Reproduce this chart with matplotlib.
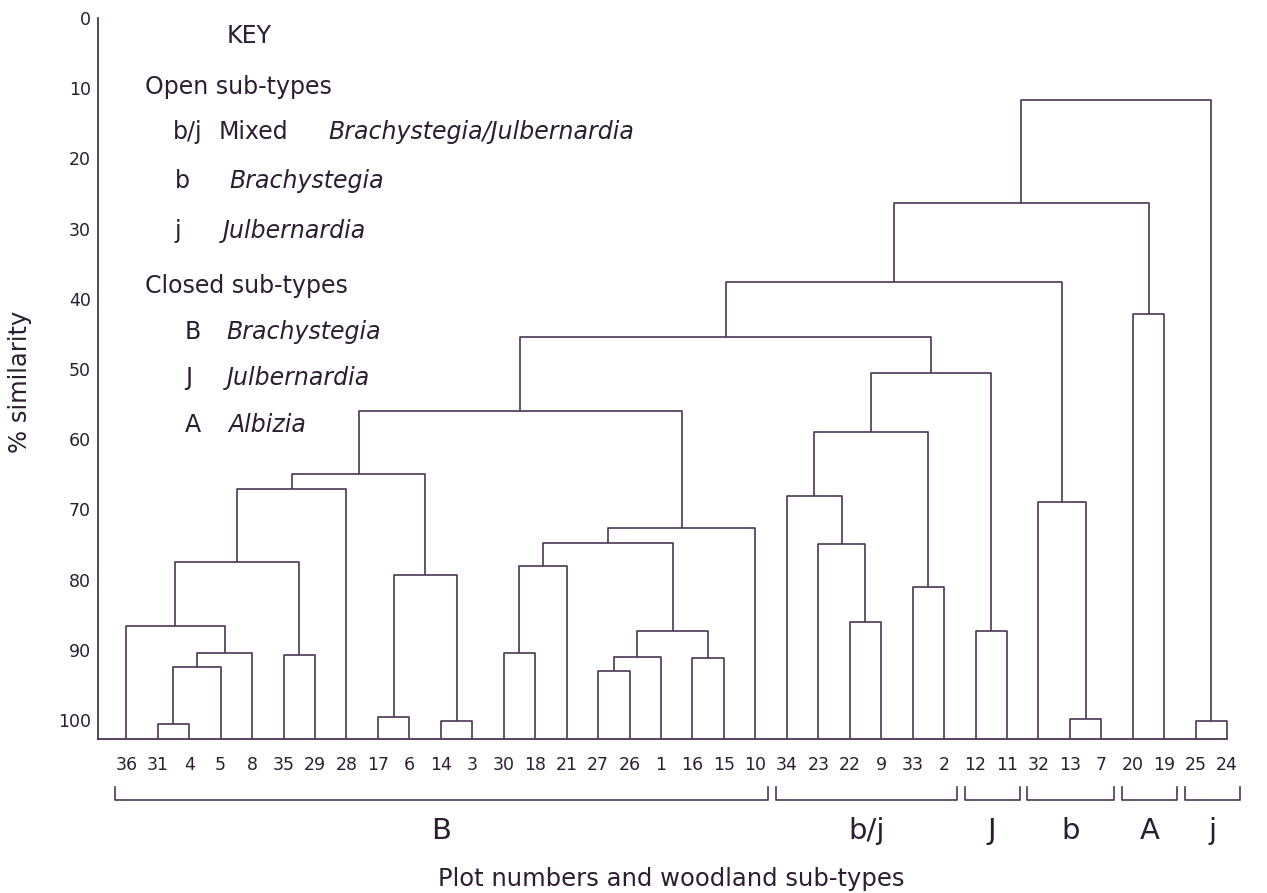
import matplotlib
matplotlib.use("Agg")
import matplotlib.pyplot as plt

# plot numbers in the order they sit along the bottom
leaves = ["36", "31", "4", "5", "8", "35", "29", "28", "17", "6", "14", "3",
          "30", "18", "21", "27", "26", "1", "16", "15", "10",
          "34", "23", "22", "9", "33", "2",
          "12", "11", "32", "13", "7", "20", "19", "25", "24"]

# linkage: (left, right, % similarity at which they join); nodes named n0, n1, ...
merges = [
    ("31", "4", 100.5),    # n0
    ("n0", "5", 92.5),     # n1
    ("n1", "8", 90.4),     # n2
    ("36", "n2", 86.6),    # n3
    ("35", "29", 90.8),    # n4
    ("n3", "n4", 77.5),    # n5
    ("n5", "28", 67.1),    # n6
    ("17", "6", 99.5),     # n7
    ("14", "3", 100.1),    # n8
    ("n7", "n8", 79.3),    # n9
    ("n6", "n9", 65.0),    # n10
    ("30", "18", 90.5),    # n11
    ("n11", "21", 78.1),   # n12
    ("27", "26", 93.0),    # n13
    ("n13", "1", 91.0),    # n14
    ("16", "15", 91.2),    # n15
    ("n14", "n15", 87.3),  # n16
    ("n12", "n16", 74.8),  # n17
    ("n17", "10", 72.6),   # n18
    ("n10", "n18", 56.0),  # n19
    ("22", "9", 86.1),     # n20
    ("23", "n20", 74.9),   # n21
    ("34", "n21", 68.1),   # n22
    ("33", "2", 81.0),     # n23
    ("n22", "n23", 58.9),  # n24
    ("12", "11", 87.3),    # n25
    ("n24", "n25", 50.6),  # n26
    ("n19", "n26", 45.5),  # n27
    ("13", "7", 99.9),     # n28
    ("32", "n28", 68.9),   # n29
    ("n27", "n29", 37.6),  # n30
    ("20", "19", 42.2),    # n31
    ("n30", "n31", 26.3),  # n32
    ("25", "24", 100.2),   # n33
    ("n32", "n33", 11.7),  # n34
]

# woodland sub-type groups: (label, first plot, last plot)
groups = [("B", "36", "10"), ("b/j", "34", "2"), ("J", "12", "11"),
          ("b", "32", "7"), ("A", "20", "19"), ("j", "25", "24")]

yticks = [0, 10, 20, 30, 40, 50, 60, 70, 80, 90, 100]

key_codes = ["b/j", "b", "j", "B", "J", "A"]
key_names = ["Brachystegia/Julbernardia", "Brachystegia", "Julbernardia",
             "Brachystegia", "Julbernardia", "Albizia"]

LINE = "#4b3553"
TEXT = "#2b1e30"
BASE = 102.7
W, H = 1267, 893

fig = plt.figure(figsize=(W / 100, H / 100), dpi=100)
ax = fig.add_axes([98 / W, 1 - 739 / H, (1258.6 - 98) / W, (739 - 18) / H])

pos = {name: i for i, name in enumerate(leaves)}
height = {name: BASE for name in leaves}
for k, (a, b, h) in enumerate(merges):
    xa, xb = pos[a], pos[b]
    ax.plot([xa, xa, xb, xb], [height[a], h, h, height[b]],
            color=LINE, lw=1.2, solid_capstyle="butt")
    pos[f"n{k}"] = (xa + xb) / 2
    height[f"n{k}"] = h

ax.set_xlim(-0.9, 36.0)
ax.set_ylim(BASE, 0)
for side in ("top", "right"):
    ax.spines[side].set_visible(False)
for side in ("left", "bottom"):
    ax.spines[side].set_color(LINE)
    ax.spines[side].set_linewidth(1.3)
ax.spines["bottom"].set_bounds(-0.9, len(leaves) - 1)

ax.set_xticks(range(len(leaves)))
ax.set_xticklabels(leaves)
ax.set_yticks(yticks)
ax.set_yticklabels([str(t) for t in yticks])
ax.tick_params(axis="x", length=0, pad=12, labelsize=12.5, labelcolor=TEXT)
ax.tick_params(axis="y", length=0, pad=5, labelsize=12.5, labelcolor=TEXT)

# brackets under the plot numbers
for label, first, last in groups:
    x0 = leaves.index(first) - 0.35
    x1 = leaves.index(last) + 0.4
    ax.plot([x0, x0, x1, x1], [109.5, 111.4, 111.4, 109.5],
            color=LINE, lw=1.2, clip_on=False)
    ax.text((x0 + x1) / 2, 115.8, label, ha="center", va="center",
            fontsize=21, color=TEXT, clip_on=False)

fig.text(671 / W, 1 - 879 / H, "Plot numbers and woodland sub-types",
         ha="center", va="center", fontsize=17.5, color=TEXT)
fig.text(20 / W, 1 - 382 / H, "% similarity", rotation=90,
         ha="center", va="center", fontsize=17.5, color=TEXT)

# key
def ktext(x, y, s, **kw):
    fig.text(x / W, 1 - y / H, s, ha="left", va="baseline",
             fontsize=17, color=TEXT, **kw)

ktext(227, 43, "KEY")
ktext(145, 94, "Open sub-types")
ktext(145, 293, "Closed sub-types")
code_x = [172.6, 174.7, 174.7, 185, 185, 185]
name_x = [328, 229.4, 223, 226.4, 226.4, 228.5]
key_base = [139, 188, 238, 339, 385, 432]
for code, name, cx, nx, yb in zip(key_codes, key_names, code_x, name_x, key_base):
    ktext(cx, yb, code)
    ktext(nx, yb, name, style="italic")
ktext(219, 139, "Mixed")

fig.savefig("out.png", dpi=100, facecolor="white")
